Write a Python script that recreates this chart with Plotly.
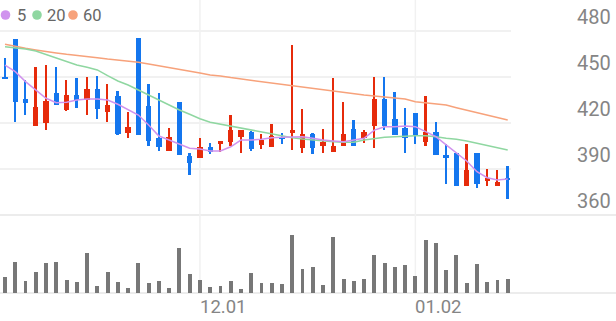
import plotly.graph_objects as go

# ---------------- data ----------------
opens = [450.0, 474.6, 435.5, 418.3, 419.8, 439.4, 428.3, 438.3, 434.8, 442.4,
         427.0, 437.6, 413.7, 475.2, 431.3, 410.4, 401.7, 433.5, 398.5, 397.4,
         404.3, 406.1, 407.8, 410.7, 414.3, 405.7, 404.5, 411.1, 413.9, 403.5,
         412.6, 405.0, 401.3, 405.2, 416.1, 410.0, 418.2, 435.7, 422.4, 416.5,
         426.3, 407.8, 414.3, 399.1, 400.2, 378.9, 400.2, 382.8, 378.9, 384.3]
highs = [462.2, 475.0, 448.0, 456.7, 457.8, 456.7, 448.0, 449.1, 449.8, 450.9,
         445.2, 441.1, 427.0, 475.2, 445.2, 439.8, 416.9, 433.5, 400.2, 410.0,
         406.8, 408.5, 425.2, 415.2, 415.0, 412.8, 419.2, 413.7, 470.9, 428.9,
         413.3, 416.1, 449.1, 433.9, 422.0, 415.4, 450.2, 450.2, 440.0, 430.0,
         426.5, 437.8, 420.9, 406.1, 400.2, 406.1, 400.2, 390.0, 389.3, 392.0]
lows = [448.5, 420.5, 425.2, 418.0, 415.2, 431.5, 427.8, 430.0, 425.2, 422.4,
        420.9, 412.0, 410.4, 412.0, 405.2, 401.7, 401.5, 399.0, 386.1, 397.2,
        399.6, 401.3, 405.2, 400.2, 402.0, 403.0, 404.1, 406.3, 402.4, 400.2,
        399.6, 400.2, 401.3, 405.0, 405.0, 406.8, 403.9, 415.4, 412.0, 400.2,
        406.1, 405.2, 399.0, 380.0, 378.8, 378.8, 377.4, 379.1, 378.8, 370.2]
closes = [448.7, 433.9, 432.8, 430.2, 434.2, 431.7, 438.3, 435.0, 442.4, 428.9,
          431.7, 412.8, 417.2, 412.2, 408.3, 404.5, 410.7, 399.1, 394.1, 404.1,
          400.9, 408.5, 415.2, 415.2, 402.8, 408.9, 411.3, 409.9, 415.2, 412.6,
          403.5, 407.4, 405.2, 412.6, 405.2, 414.1, 435.7, 418.2, 412.2, 410.0,
          412.2, 414.3, 399.1, 397.0, 378.9, 389.3, 380.0, 383.9, 381.3, 382.8]
volumes = [160, 307, 123, 210, 300, 310, 133, 110, 400, 73,
           210, 113, 53, 300, 97, 117, 53, 447, 187, 130,
           57, 70, 123, 43, 197, 100, 97, 90, 577, 240,
           257, 77, 563, 143, 117, 140, 380, 297, 263, 280,
           173, 530, 497, 227, 377, 100, 287, 113, 133, 140]
ma5 = [457.8, 453.5, 447.0, 441.5, 436.1, 433.2, 433.5, 435.0, 435.7, 435.7,
       435.0, 432.2, 428.5, 425.2, 418.7, 411.5, 408.9, 406.1, 403.5, 403.0,
       401.7, 401.7, 404.5, 408.9, 408.9, 409.4, 410.4, 410.7, 411.1, 411.1,
       410.0, 408.9, 408.3, 407.8, 408.9, 410.0, 415.4, 417.6, 417.6, 418.1,
       417.6, 414.3, 411.1, 405.7, 400.2, 395.2, 388.2, 384.3, 382.8, 383.5]
ma20 = [469.8, 469.1, 468.3, 467.0, 464.8, 462.2, 460.0, 457.8, 456.3, 454.6,
        450.9, 447.4, 444.8, 441.5, 438.3, 435.0, 431.7, 428.5, 425.7, 422.8,
        420.5, 419.2, 418.2, 416.9, 415.4, 413.9, 412.6, 411.5, 410.4, 409.6,
        408.9, 408.3, 407.8, 407.4, 407.4, 408.9, 410.0, 410.7, 411.1, 411.5,
        411.7, 411.7, 411.1, 410.0, 409.4, 408.3, 406.8, 405.2, 403.9, 402.4]
ma60 = [471.3, 469.8, 468.7, 467.6, 466.5, 465.7, 464.8, 464.2, 463.5, 462.6,
        461.7, 461.1, 460.4, 459.6, 458.5, 457.4, 456.3, 455.2, 453.9, 452.6,
        451.3, 450.7, 449.6, 448.7, 447.8, 446.9, 446.1, 445.2, 444.3, 443.5,
        442.6, 441.7, 440.9, 440.0, 439.1, 438.3, 437.6, 437.0, 436.5, 435.7,
        433.9, 433.2, 432.8, 431.7, 430.0, 428.5, 426.7, 425.2, 423.5, 422.0]
price_ticks = [360, 390, 420, 450, 480]
date_tick_pos = [19, 40]
date_tick_text = ["12.01", "01.02"]
ma_names = ["5", "20", "60"]

# ---------------- styling ----------------
W, H = 616, 321
UP, DOWN = "#e62b0b", "#1476ee"
MA_COLORS = ["#d093ee", "#8fd7a1", "#f7a27b"]
VOL_COLOR = "#777777"
GRID = "#f1f1f1"
LINE = "#e6e6e6"
FONT = "Roboto"

x = list(range(len(opens)))
colors = [UP if c >= o else DOWN for o, c in zip(opens, closes)]

PLOT_RIGHT = 511 / W
PRICE_BOTTOM_PX = 215
VOL_BOTTOM_PX = 293
px_per_unit = 46 / 30
price_top = 360 + PRICE_BOTTOM_PX / px_per_unit

fig = go.Figure()

for vals, col in zip([ma60, ma20, ma5], MA_COLORS[::-1]):
    fig.add_trace(go.Scatter(x=x, y=vals, mode="lines",
                             line=dict(color=col, width=1.5),
                             hoverinfo="skip", xaxis="x", yaxis="y"))

# wicks
fig.add_trace(go.Bar(x=x, y=[h - l for h, l in zip(highs, lows)], base=lows,
                     width=0.17, marker=dict(color=colors, line_width=0),
                     xaxis="x", yaxis="y"))
# bodies
fig.add_trace(go.Bar(x=x, y=[max(abs(c - o), 1.0) for o, c in zip(opens, closes)],
                     base=[min(o, c) for o, c in zip(opens, closes)],
                     width=0.52, marker=dict(color=colors, line_width=0),
                     xaxis="x", yaxis="y"))
# volume
fig.add_trace(go.Bar(x=x, y=volumes, width=0.38,
                     marker=dict(color=VOL_COLOR, line_width=0),
                     xaxis="x", yaxis="y2"))

shapes = [
    dict(type="line", xref="paper", yref="paper", x0=0, x1=1,
         y0=(H - PRICE_BOTTOM_PX) / H, y1=(H - PRICE_BOTTOM_PX) / H,
         line=dict(color=LINE, width=1.5), layer="below"),
    dict(type="line", xref="paper", yref="paper", x0=0, x1=1,
         y0=(H - VOL_BOTTOM_PX) / H, y1=(H - VOL_BOTTOM_PX) / H,
         line=dict(color=LINE, width=1.5), layer="below"),
]
for p in date_tick_pos:
    shapes.append(dict(type="line", xref="x", yref="paper", x0=p, x1=p,
                       y0=(H - VOL_BOTTOM_PX) / H, y1=1,
                       line=dict(color=GRID, width=1.5), layer="below"))

# legend dots
legend_dot_x = [5.5, 37, 73]
legend_txt_x = [15, 45, 81]
for col, dx in zip(MA_COLORS, legend_dot_x):
    cx, cy, r = dx / W, 1 - 15 / H, 4.8
    shapes.append(dict(type="circle", xref="paper", yref="paper",
                       x0=cx - r / W, x1=cx + r / W, y0=cy - r / H, y1=cy + r / H,
                       fillcolor=col, line=dict(width=0)))

annotations = []
for v in price_ticks:
    annotations.append(dict(x=1, xref="paper", xanchor="right", xshift=-3,
                            y=v, yref="y", yanchor="middle", yshift=14,
                            text=str(v), showarrow=False,
                            font=dict(family=FONT, size=20, color="#858585")))
for p, t in zip(date_tick_pos, date_tick_text):
    annotations.append(dict(x=p, xref="x", xanchor="left", xshift=-2,
                            y=(H - 307) / H, yref="paper", yanchor="middle",
                            text=t, showarrow=False,
                            font=dict(family=FONT, size=18.5, color="#858585")))
for name, tx in zip(ma_names, legend_txt_x):
    annotations.append(dict(x=tx / W, xref="paper", xanchor="left",
                            y=1 - 15 / H, yref="paper", yanchor="middle",
                            text=name, showarrow=False,
                            font=dict(family=FONT, size=16.5, color="#666666")))

fig.update_layout(
    width=W, height=H, margin=dict(l=0, r=0, t=0, b=0),
    paper_bgcolor="white", plot_bgcolor="white",
    showlegend=False, barmode="overlay", bargap=0,
    xaxis=dict(domain=[0, PLOT_RIGHT], range=[-0.487, 49.32],
               showgrid=False, showticklabels=False, zeroline=False,
               showline=False, ticks=""),
    yaxis=dict(domain=[(H - PRICE_BOTTOM_PX) / H, 1], range=[360, price_top],
               tickvals=price_ticks[1:], showgrid=True, gridcolor=GRID,
               gridwidth=1.5, showticklabels=False, zeroline=False,
               showline=False, ticks=""),
    yaxis2=dict(domain=[(H - VOL_BOTTOM_PX) / H, (H - PRICE_BOTTOM_PX) / H],
                range=[0, 780], showgrid=False, showticklabels=False,
                zeroline=False, showline=False, ticks=""),
    shapes=shapes, annotations=annotations,
)

fig.write_html("out.html")
